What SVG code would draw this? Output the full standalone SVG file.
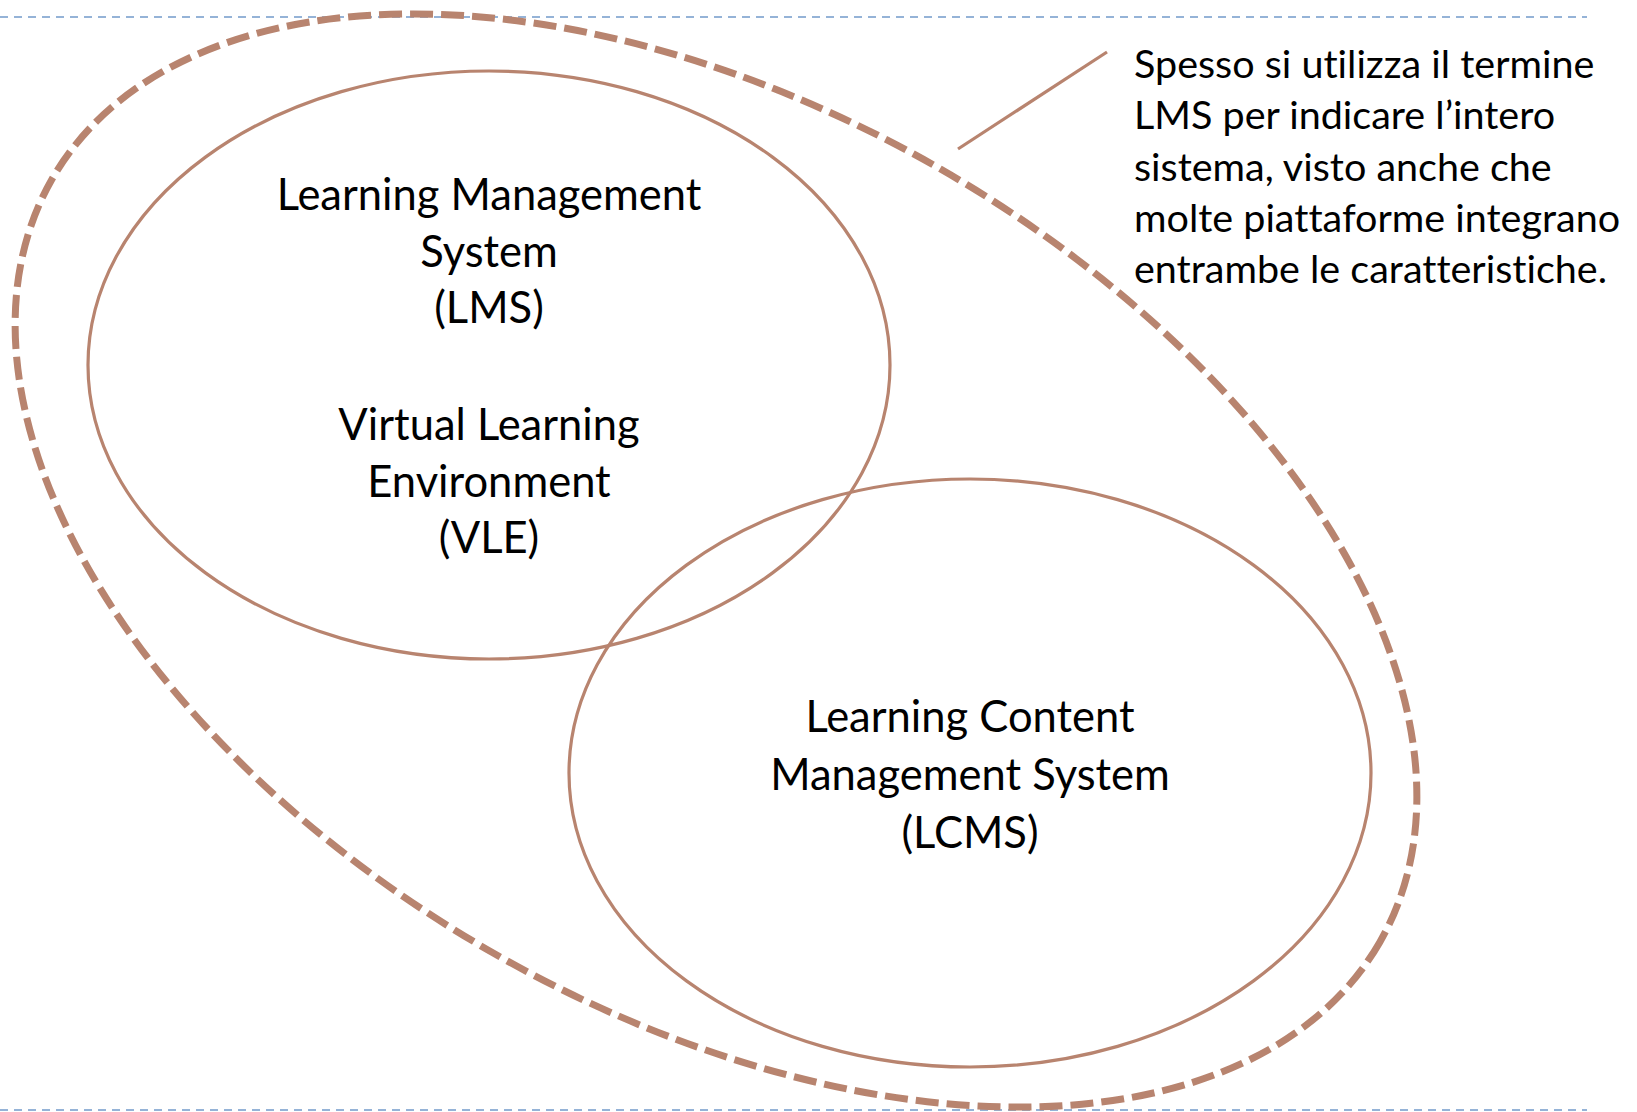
<svg xmlns="http://www.w3.org/2000/svg" width="1637" height="1112" viewBox="0 0 1637 1112">
<style>
.guide{stroke:#95b3d7;stroke-width:2;stroke-dasharray:8 6;fill:none}
.venn{fill:none;stroke:#b8846f;stroke-width:3.2}
.outer{fill:none;stroke:#b8846f;stroke-width:7;stroke-dasharray:23 8}
.lbl{font-family:Lato,"Open Sans","Liberation Sans",sans-serif;font-size:43.5px;fill:#000;text-anchor:middle;font-variant-ligatures:none}
.note{font-family:Lato,"Open Sans","Liberation Sans",sans-serif;font-size:39.5px;fill:#000;font-variant-ligatures:none}
</style>
<rect width="1637" height="1112" fill="#fff"/>
<g id="guides">
<line class="guide" x1="0" y1="17" x2="1587" y2="17"/>
<line class="guide" x1="0" y1="1110" x2="1587" y2="1110"/>
</g>
<g id="outer">
<ellipse class="outer" cx="716" cy="560.5" rx="765.7" ry="451.3" transform="rotate(29.9 716 560.5)"/>
</g>
<g id="lms">
<ellipse class="venn" cx="489" cy="365" rx="401" ry="294"/>
<text class="lbl" x="489" y="210">Learning Management</text>
<text class="lbl" x="489" y="267">System</text>
<text class="lbl" x="489" y="323">(LMS)</text>
<text class="lbl" x="489" y="440">Virtual Learning</text>
<text class="lbl" x="489" y="497">Environment</text>
<text class="lbl" x="489" y="553">(VLE)</text>
</g>
<g id="lcms">
<ellipse class="venn" cx="970" cy="773" rx="401" ry="294"/>
<text class="lbl" x="970" y="732">Learning Content</text>
<text class="lbl" x="970" y="790">Management System</text>
<text class="lbl" x="970" y="848">(LCMS)</text>
</g>
<g id="connectors">
<line x1="958" y1="149" x2="1107" y2="52" stroke="#b8846f" stroke-width="3.2"/>
</g>
<g id="note">
<text class="note" x="1134" y="78">Spesso si utilizza il termine</text>
<text class="note" x="1134" y="129">LMS per indicare l’intero</text>
<text class="note" x="1134" y="181">sistema, visto anche che</text>
<text class="note" x="1134" y="232">molte piattaforme integrano</text>
<text class="note" x="1134" y="283">entrambe le caratteristiche.</text>
</g>
</svg>
